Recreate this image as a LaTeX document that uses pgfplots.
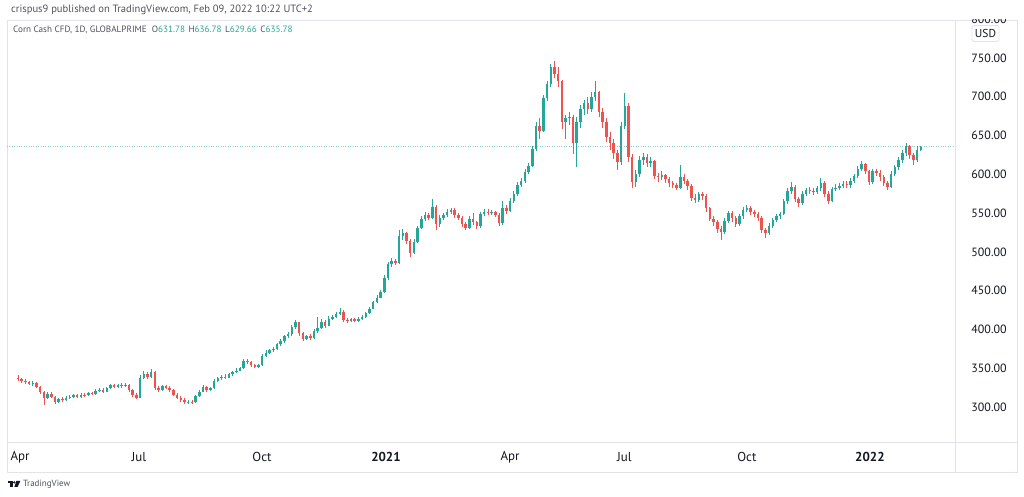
\documentclass[border=0pt]{standalone}
\usepackage{pgfplots}
\pgfplotsset{compat=1.18}
\usepackage{pgfplotstable}
\usepackage{fontspec}
\setmainfont{PT Sans}
\definecolor{upc}{HTML}{26A69A}
\definecolor{dnc}{HTML}{EF5350}
\definecolor{frame}{HTML}{E0E3EB}
\definecolor{txt}{HTML}{131722}
\definecolor{hdr}{HTML}{50535E}
\pgfplotstableread{
i o h l c
0 338 341 334 336
2 336 338 331 334
4 334 336 330 332
6 332 334 328 330
8 330 333 327 331
10 331 332 324 326
12 326 327 317 319
14 319 321 303 312
16 312 320 310 317
18 317 319 311 313
20 313 314 304 307
22 307 312 305 310
24 310 313 307 309
26 309 314 308 312
28 312 316 310 313
30 313 317 311 315
32 315 317 311 313
34 313 318 312 316
36 316 318 313 315
38 315 320 314 318
40 318 320 315 317
42 317 323 316 321
44 321 325 319 322
46 322 324 318 320
48 320 326 319 324
50 324 330 323 328
52 328 330 324 326
54 326 330 325 328
56 328 331 325 327
58 327 331 326 329
60 329 330 320 322
62 322 323 313 316
64 316 318 310 312
66 312 341 311 338
68 338 346 336 343
70 343 345 336 339
72 339 349 337 345
74 345 346 322 324
76 324 327 320 322
78 322 329 321 327
80 327 329 323 325
82 325 327 320 322
84 322 323 314 316
86 316 318 310 312
88 312 314 307 309
90 309 311 304 306
92 306 309 304 307
94 307 309 304 306
96 306 316 305 314
98 314 322 313 320
100 320 328 319 326
102 326 327 320 322
104 322 326 321 324
106 324 336 323 334
108 334 339 332 337
110 337 341 335 339
112 339 342 336 338
114 338 344 337 342
116 342 347 340 345
118 345 350 344 347
120 347 352 346 350
122 350 362 349 359
124 359 362 355 358
126 358 359 352 354
128 354 356 350 352
130 352 356 350 354
132 354 368 353 366
134 366 373 364 370
136 370 375 368 373
138 373 378 371 375
140 375 383 374 381
142 381 388 379 385
144 385 393 383 391
146 391 397 389 394
148 394 406 392 403
150 403 412 401 409
152 409 410 392 395
154 395 397 385 388
156 388 393 386 391
158 391 394 387 389
160 389 400 388 398
162 398 416 396 402
164 402 413 400 410
166 410 412 402 405
168 405 417 404 414
170 414 419 412 416
172 416 423 415 420
174 420 428 418 423
176 423 425 410 412
178 412 415 408 411
180 411 415 409 413
182 413 415 409 411
184 411 416 410 413
186 413 418 412 416
188 416 423 415 421
190 421 429 420 427
192 427 437 426 435
194 435 444 434 441
196 441 451 440 448
198 448 470 447 466
200 466 487 464 484
202 484 492 481 488
204 488 491 483 486
206 486 528 485 520
208 520 530 515 524
210 524 526 510 514
212 514 516 494 499
214 499 516 497 513
216 513 534 511 531
218 531 546 529 543
220 543 551 540 547
222 547 550 541 544
224 544 568 542 558
226 558 560 528 536
228 536 547 532 544
230 544 550 541 547
232 547 555 545 552
234 552 557 549 554
236 554 556 544 547
238 547 550 541 544
240 544 546 532 536
242 536 539 528 531
244 531 546 529 543
246 543 550 535 538
248 538 540 530 533
250 533 552 531 549
252 549 555 546 552
254 552 555 547 550
256 550 554 547 551
258 551 553 545 548
260 548 550 534 537
262 537 565 535 557
264 557 560 549 553
266 553 569 551 566
268 566 578 563 574
270 574 590 572 586
272 586 595 584 591
274 591 607 589 603
276 603 615 600 611
278 611 637 609 633
280 633 668 630 662
282 662 672 645 656
284 656 702 654 698
286 698 720 695 716
288 716 742 712 738
290 738 746 724 730
292 730 738 712 720
294 720 722 658 668
296 668 676 645 672
298 672 680 664 674
300 674 676 626 640
302 640 674 610 668
304 668 690 660 684
306 684 696 676 692
308 692 700 678 684
310 684 706 680 700
312 700 720 694 706
314 706 708 674 680
316 680 686 660 668
318 668 672 642 648
320 648 654 632 640
322 640 646 620 628
324 628 632 606 616
326 616 668 612 662
328 662 705 658 688
330 688 692 616 622
332 622 626 582 590
334 590 606 584 600
336 600 624 596 618
338 618 628 612 622
340 622 626 610 614
342 614 622 609 617
344 617 619 594 598
346 598 602 590 597
348 597 604 593 599
350 599 601 589 594
352 594 597 584 589
354 589 592 582 586
356 586 589 580 583
358 583 612 581 597
360 597 600 588 592
362 592 594 580 585
364 585 587 566 570
366 570 574 563 567
368 567 577 564 574
370 574 577 567 572
372 572 574 552 556
374 556 558 540 543
376 543 546 534 538
378 538 541 525 530
380 530 533 515 526
382 526 544 523 540
384 540 553 537 550
386 550 553 538 544
388 544 546 532 536
390 536 549 534 546
392 546 558 543 554
394 554 560 551 556
396 556 559 548 551
398 551 554 545 549
400 549 552 540 544
402 544 546 524 528
404 528 531 518 525
406 525 537 522 534
408 534 544 531 541
410 541 549 538 546
412 546 552 543 549
414 549 568 547 565
416 565 582 562 578
418 578 590 575 584
420 584 586 564 568
422 568 571 558 563
424 563 578 561 575
426 575 583 572 580
428 580 584 575 579
430 579 582 573 577
432 577 585 574 582
434 582 595 579 589
436 589 591 571 575
438 575 578 562 566
440 566 584 564 581
442 581 587 578 583
444 583 589 580 585
446 585 592 583 588
448 588 591 582 586
450 586 595 583 592
452 592 601 589 598
454 598 611 595 607
456 607 617 604 613
458 613 615 600 604
460 604 606 586 590
462 590 607 588 604
464 604 607 598 602
466 602 605 592 596
468 596 599 585 589
470 589 592 580 584
472 584 604 582 601
474 601 612 598 609
476 609 622 606 619
478 619 631 615 627
480 627 641 623 636
482 636 638 620 625
484 625 628 612 618
486 618 636 616 631
488 631.78 636.78 629.66 635.78
}\candles
\begin{document}
\begin{tikzpicture}[x=1bp,y=1bp]
\fill[white] (0,0) rectangle (1024,497);
\useasboundingbox (0,0) rectangle (1024,497);
% panel
\draw[frame, line width=0.8bp] (7,25) rectangle (1017,477);
\draw[frame, line width=0.8bp] (7,55) -- (1017,55);
\draw[frame, line width=0.8bp] (955,25) -- (955,477);
\begin{axis}[
  at={(7bp,55bp)}, anchor=south west,
  scale only axis, width=948bp, height=422bp,
  xmin=-5.95, xmax=506.5, ymin=254.9, ymax=799,
  axis line style={draw=none},
  major tick length=0pt,
  /pgf/number format/assume math mode=true,
  ytick={300,350,400,450,500,550,600,650,700,750},
  yticklabel pos=right,
  yticklabel style={anchor=center, xshift=34bp, text=txt,
    font=\fontsize{12}{14}\selectfont,
    /pgf/number format/fixed, /pgf/number format/fixed zerofill,
    /pgf/number format/precision=2},
  xtick={1.1,65.4,131.9,198.9,266,327.8,394,460.5},
  xticklabels={Apr,Jul,Oct,\textbf{2021},Apr,Jul,Oct,\textbf{2022}},
  xticklabel style={anchor=center, yshift=-15bp, text=txt,
    font=\fontsize{13}{15}\selectfont},
  candle/.style={draw=none, mark=none, forget plot,
    error bars/.cd, y dir=plus, y explicit, error mark=none},
]
% last price dotted line
\addplot[upc!55, dash pattern=on 0.8bp off 1.6bp, line width=0.6bp, forget plot]
  coordinates {(-5.95,635.78) (506.5,635.78)};
% up wicks
\addplot[candle,
  /pgfplots/restrict expr to domain={\thisrow{c}-\thisrow{o}}{0:10000},
  /pgfplots/error bars/error bar style={draw=upc, solid, line width=0.8bp}]
  table[x=i, y=l, y error expr=\thisrow{h}-\thisrow{l}] {\candles};
% up bodies
\addplot[candle,
  /pgfplots/restrict expr to domain={\thisrow{c}-\thisrow{o}}{0:10000},
  /pgfplots/error bars/error bar style={draw=upc, solid, line width=2.5bp}]
  table[x=i, y=o, y error expr=\thisrow{c}-\thisrow{o}] {\candles};
% down wicks
\addplot[candle,
  /pgfplots/restrict expr to domain={\thisrow{c}-\thisrow{o}}{-10000:-0.001},
  /pgfplots/error bars/error bar style={draw=dnc, solid, line width=0.8bp}]
  table[x=i, y=l, y error expr=\thisrow{h}-\thisrow{l}] {\candles};
% down bodies
\addplot[candle,
  /pgfplots/restrict expr to domain={\thisrow{c}-\thisrow{o}}{-10000:-0.001},
  /pgfplots/error bars/error bar style={draw=dnc, solid, line width=2.5bp}]
  table[x=i, y=c, y error expr=\thisrow{o}-\thisrow{c}] {\candles};
\end{axis}
% top cut-off 800.00 label
\begin{scope}
\clip (956,470) rectangle (1016,477);
\node[text=txt, font=\fontsize{12}{14}\selectfont] at (989,477.8) {800.00};
\end{scope}
% USD box
\node[draw=frame, fill=white, rounded corners=2bp, line width=0.8bp,
  minimum width=27bp, minimum height=16bp, inner sep=0pt,
  text=txt, font=\fontsize{11.5}{13}\selectfont] at (985.5,463.5) {USD};
% header
\node[anchor=west, text=hdr, font=\fontsize{10.6}{12}\selectfont, inner sep=0pt]
  at (11,487) {crispus9 published on TradingView.com, Feb 09, 2022 10:22 UTC+2};
\node[anchor=west, text=hdr, font=\fontsize{9.2}{11}\selectfont, inner sep=0pt]
  at (13,467) {Corn Cash CFD, 1D, GLOBALPRIME\hspace{5bp}O\textcolor{upc}{631.78}\hspace{3.5bp}H\textcolor{upc}{636.78}\hspace{3.5bp}L\textcolor{upc}{629.66}\hspace{3.5bp}C\textcolor{upc}{635.78}};
% TradingView logo
\fill[txt] (7.5,16) rectangle (12.5,13.8);
\fill[txt] (10.2,16) rectangle (12.5,10);
\fill[txt] (14.3,14.6) circle (1.3);
\fill[txt] (16.3,16) -- (20.3,16) -- (17.6,10) -- (14.4,10) -- cycle;
\node[anchor=west, text=hdr, font=\fontsize{9}{11}\selectfont, inner sep=0pt]
  at (23,13) {TradingView};
\end{tikzpicture}
\end{document}
